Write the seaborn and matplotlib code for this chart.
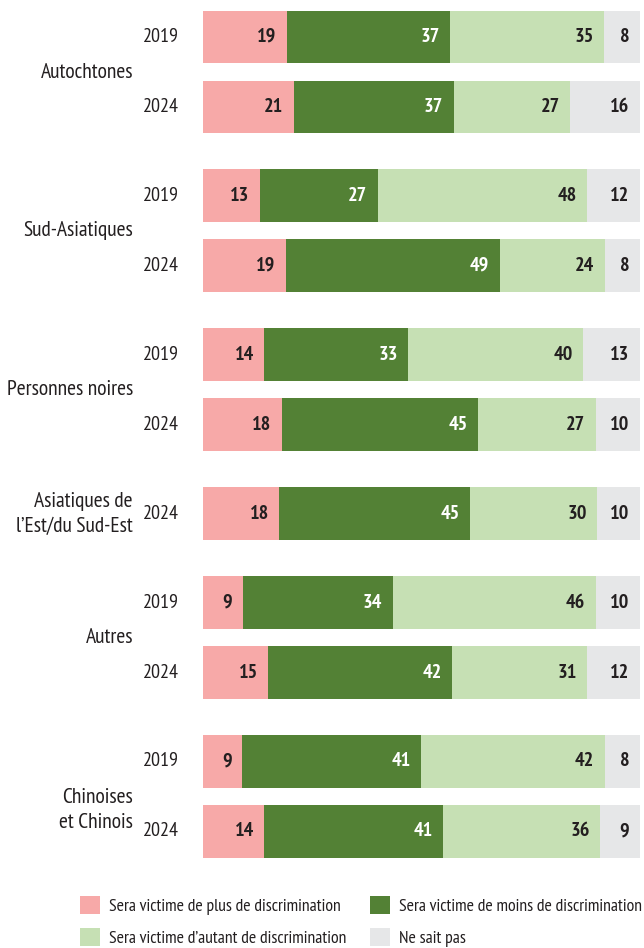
import matplotlib
matplotlib.use("Agg")
import matplotlib.pyplot as plt
import matplotlib.transforms as mtransforms
from matplotlib.patches import Patch
import numpy as np
import pandas as pd
import seaborn as sns

# --- data ---
groups = ["Autochtones", "Sud-Asiatiques", "Personnes noires",
          "Asiatiques de\nl\u2019Est/du Sud-Est", "Autres", "Chinoises\net Chinois"]
group_sizes = [2, 2, 2, 1, 2, 2]
years = ["2019", "2024", "2019", "2024", "2019", "2024",
         "2024", "2019", "2024", "2019", "2024"]

plus = [19, 21, 13, 19, 14, 18, 18, 9, 15, 9, 14]
moins = [37, 37, 27, 49, 33, 45, 45, 34, 42, 41, 41]
autant = [35, 27, 48, 24, 40, 27, 30, 46, 31, 42, 36]
nsp = [8, 16, 12, 8, 13, 10, 10, 10, 12, 8, 9]

segments = ["plus", "moins", "autant", "nsp"]
legend_labels = {
    "plus": "Sera victime de plus de discrimination",
    "moins": "Sera victime de moins de discrimination",
    "autant": "Sera victime d\u2019autant de discrimination",
    "nsp": "Ne sait pas",
}
colors = {"plus": "#F7A9A8", "moins": "#538135", "autant": "#C6E0B4", "nsp": "#E6E7E8"}
text_colors = {"plus": "#231F20", "moins": "white", "autant": "#231F20", "nsp": "#231F20"}

sns.set_theme(style="white")
plt.rcParams["font.family"] = ["PT Sans Narrow", "DejaVu Sans"]

# row positions: one step per row, a bit more between groups
pos = []
y = 0.0
for n in group_sizes:
    for _ in range(n):
        pos.append(y)
        y += 1
    y += 0.27

vals = np.array([plus, moins, autant, nsp], dtype=float)
shares = vals / vals.sum(axis=0) * 100
ends = shares.cumsum(axis=0)

rows = []
for k, seg in enumerate(segments):
    for i, p in enumerate(pos):
        rows.append({"pos": p, "segment": seg, "end": ends[k, i]})
df = pd.DataFrame(rows)

fig = plt.figure(figsize=(6.44, 9.48), dpi=100)
ax = fig.add_axes([203 / 644, 0, 441 / 644, 1])

# stacked bars drawn as overlapping cumulative bars (largest first)
sns.barplot(data=df, x="end", y="pos", hue="segment", hue_order=segments[::-1],
            palette=colors, orient="h", native_scale=True, dodge=False,
            width=0.757, errorbar=None, legend=False, saturation=1,
            linewidth=0, ax=ax)

ax.set_xlim(0, 101)
ax.set_ylim((948 - 37) / 70, -37 / 70)
ax.axis("off")

# value labels at the right end of each segment
for k, seg in enumerate(segments):
    for i, p in enumerate(pos):
        ax.annotate(f"{int(vals[k, i])}", xy=(ends[k, i], p), xytext=(-7.5, 0),
                    textcoords="offset points", ha="right", va="center",
                    fontsize=14.5, fontweight="bold", color=text_colors[seg])

trans = mtransforms.blended_transform_factory(fig.transFigure, ax.transData)
for i, p in enumerate(pos):
    ax.text(179 / 644, p, years[i], transform=trans, ha="right", va="center",
            fontsize=14.5, color="#231F20")

start = 0
for name, n in zip(groups, group_sizes):
    center = np.mean(pos[start:start + n])
    if name.startswith("Chinoises"):
        center += 0.2
    ax.text(133 / 644, center, name, transform=trans, ha="right", va="center",
            fontsize=15.5, color="#231F20", linespacing=1.4, multialignment="right")
    start += n

order = ["plus", "autant", "moins", "nsp"]
handles = [Patch(facecolor=colors[s], edgecolor="none") for s in order]
fig.legend(handles, [legend_labels[s] for s in order], ncol=2, loc="upper left",
           bbox_to_anchor=(80 / 644, 1 - 896 / 948), frameon=False,
           fontsize=12.8, handlelength=1.15, handleheight=1.15, handletextpad=0.5,
           columnspacing=1.3, labelspacing=0.75, borderpad=0, borderaxespad=0,
           labelcolor="#231F20")

fig.savefig("out.png", dpi=100)
